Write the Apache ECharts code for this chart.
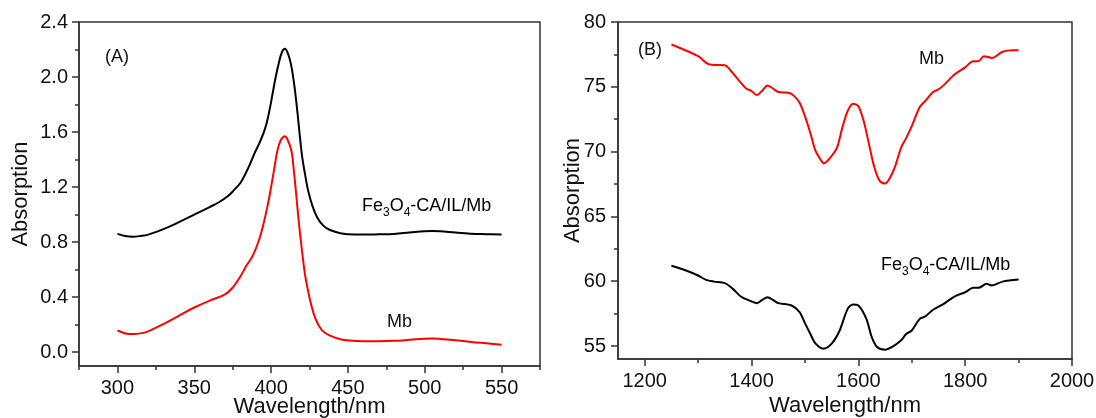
<!DOCTYPE html>
<html>
<head>
<meta charset="utf-8">
<script src="https://cdn.jsdelivr.net/npm/echarts@6/dist/echarts.min.js"></script>
<style>
  html, body { margin: 0; padding: 0; background: #fff; }
  #chart { width: 1096px; height: 418px; }
</style>
</head>
<body>
<div id="chart"></div>
<script>
// panel (A): UV-vis spectra
var xFilmA = [300, 305, 310, 315, 320, 330, 340, 350, 360, 366, 372, 376, 380, 383, 386, 389, 392, 395, 397, 399, 401, 403, 405, 407, 409, 411, 413, 415, 417, 420, 422, 424, 427, 430, 434, 438, 445, 450, 460, 470, 480, 490, 500, 505, 510, 520, 530, 540, 550];
var yFilmA = [0.86, 0.845, 0.84, 0.845, 0.855, 0.895, 0.945, 1.0, 1.055, 1.09, 1.135, 1.18, 1.23, 1.29, 1.36, 1.44, 1.51, 1.59, 1.66, 1.76, 1.88, 2.0, 2.1, 2.18, 2.205, 2.17, 2.09, 1.95, 1.76, 1.44, 1.3, 1.18, 1.06, 0.98, 0.92, 0.89, 0.865, 0.858, 0.855, 0.857, 0.86, 0.87, 0.88, 0.882, 0.88, 0.87, 0.862, 0.858, 0.855];
var xMbA = [300, 303, 306, 310, 315, 320, 330, 340, 350, 360, 370, 375, 380, 384, 388, 392, 395, 398, 400, 402, 404, 406, 408, 409, 410, 412, 413.5, 415, 416.5, 418, 420, 422, 424, 426, 429, 433, 438, 445, 451, 460, 470, 480, 490, 500, 505, 510, 520, 530, 540, 550];
var yMbA = [0.158, 0.145, 0.135, 0.133, 0.137, 0.152, 0.205, 0.265, 0.325, 0.375, 0.42, 0.47, 0.55, 0.63, 0.7, 0.81, 0.93, 1.08, 1.2, 1.33, 1.46, 1.535, 1.565, 1.57, 1.56, 1.51, 1.45, 1.3, 1.13, 0.95, 0.75, 0.57, 0.45, 0.35, 0.24, 0.16, 0.122, 0.095, 0.085, 0.08, 0.08, 0.083, 0.09, 0.098, 0.1, 0.097, 0.087, 0.075, 0.065, 0.055];

// panel (B): IR spectra
var xMbB = [1250, 1300, 1315, 1325, 1350, 1360, 1375, 1390, 1400, 1410, 1420, 1430, 1440, 1450, 1470, 1480, 1490, 1500, 1510, 1520, 1530, 1535, 1550, 1560, 1570, 1580, 1590, 1600, 1610, 1620, 1630, 1640, 1650, 1660, 1670, 1680, 1690, 1700, 1715, 1725, 1740, 1750, 1760, 1780, 1800, 1815, 1825, 1835, 1850, 1870, 1890, 1900];
var yMbB = [78.26, 77.36, 76.85, 76.7, 76.67, 76.3, 75.56, 74.87, 74.67, 74.36, 74.7, 75.1, 74.87, 74.6, 74.54, 74.28, 73.77, 72.74, 71.46, 70.05, 69.33, 69.1, 69.67, 70.3, 71.85, 73.13, 73.7, 73.5, 72.36, 70.56, 68.77, 67.74, 67.54, 68.05, 69.0, 70.3, 71.08, 71.97, 73.44, 73.9, 74.6, 74.8, 75.13, 75.95, 76.5, 76.97, 76.97, 77.36, 77.23, 77.7, 77.82, 77.82];
var xFilmB = [1250, 1275, 1300, 1315, 1330, 1350, 1365, 1380, 1400, 1410, 1420, 1430, 1440, 1450, 1475, 1490, 1500, 1510, 1520, 1535, 1550, 1565, 1580, 1590, 1600, 1615, 1625, 1635, 1650, 1665, 1680, 1690, 1700, 1715, 1725, 1740, 1760, 1780, 1800, 1815, 1825, 1840, 1850, 1870, 1900];
var yFilmB = [61.2, 60.87, 60.44, 60.1, 59.97, 59.85, 59.41, 58.82, 58.44, 58.31, 58.56, 58.77, 58.56, 58.31, 58.13, 57.62, 56.77, 55.95, 55.18, 54.8, 55.18, 56.2, 57.87, 58.2, 58.13, 57.1, 55.7, 54.92, 54.72, 54.97, 55.44, 55.95, 56.2, 57.1, 57.28, 57.8, 58.26, 58.82, 59.15, 59.49, 59.49, 59.8, 59.67, 59.97, 60.13];

// tick values
var xTicksA = [300, 350, 400, 450, 500, 550];
var xMinorA = [275, 325, 375, 425, 475, 525, 575];
var yTicksA = [0, 0.4, 0.8, 1.2, 1.6, 2.0, 2.4];
var yMinorA = [0.2, 0.6, 1.0, 1.4, 1.8, 2.2];
var xTicksB = [1200, 1400, 1600, 1800, 2000];
var xMinorB = [1300, 1500, 1700, 1900];
var yTicksB = [55, 60, 65, 70, 75, 80];
var yMinorB = [57.5, 62.5, 67.5, 72.5, 77.5];

var FONT = 'Liberation Sans, Arial, sans-serif';
var LINE = '#333';

function pairs(xs, ys) {
  return xs.map(function (x, i) { return [x, ys[i]]; });
}

function majorAxis(grid, min, max, ticks, fmt, pos, name, gap, margin) {
  return {
    gridIndex: grid,
    type: 'value',
    position: pos,
    min: min,
    max: max,
    splitLine: {show: false},
    axisLine: {show: true, onZero: false, lineStyle: {color: LINE, width: 1.5}},
    axisTick: {show: true, inside: false, length: 7, customValues: ticks, lineStyle: {color: LINE, width: 1.5}},
    axisLabel: {customValues: ticks, formatter: fmt, color: '#111', fontSize: 20, fontFamily: FONT, margin: margin},
    name: name,
    nameGap: gap,
    nameMoveOverlap: false,
    nameLocation: 'middle',
    nameTextStyle: {color: '#111', fontSize: 22, fontFamily: FONT}
  };
}

function minorAxis(grid, min, max, ticks, pos) {
  return {
    gridIndex: grid,
    type: 'value',
    position: pos,
    min: min,
    max: max,
    splitLine: {show: false},
    axisLine: {show: false, onZero: false},
    axisTick: {show: true, inside: false, length: 4, customValues: ticks, lineStyle: {color: LINE, width: 1.5}},
    axisLabel: {show: false}
  };
}

var fmt1 = function (v) { return v.toFixed(1); };
var fmt0 = function (v) { return String(Math.round(v)); };

var chart = echarts.init(document.getElementById('chart'));

var subText = '{n|Fe}{s|3}{n|O}{s|4}{n|-CA/IL/Mb}';
var subRich = {
  n: {fontSize: 18, fontFamily: FONT, color: '#111', lineHeight: 18},
  s: {fontSize: 12, fontFamily: FONT, color: '#111', lineHeight: 26, verticalAlign: 'bottom'}
};

var option = {
  animation: false,
  backgroundColor: '#fff',
  grid: [
    {left: 79, top: 22, width: 461, height: 344, show: true, borderColor: LINE, borderWidth: 1.5, outerBoundsMode: 'none', containLabel: false},
    {left: 618, top: 22, width: 454, height: 337, show: true, borderColor: LINE, borderWidth: 1.5, outerBoundsMode: 'none', containLabel: false}
  ],
  xAxis: [
    majorAxis(0, 275, 575, xTicksA, fmt0, 'bottom', 'Wavelength/nm', 30, 12),
    minorAxis(0, 275, 575, xMinorA, 'bottom'),
    majorAxis(1, 1150, 2000, xTicksB, fmt0, 'bottom', 'Wavelength/nm', 36, 12),
    minorAxis(1, 1150, 2000, xMinorB, 'bottom')
  ],
  yAxis: [
    majorAxis(0, -0.1, 2.4, yTicksA, fmt1, 'left', 'Absorption', 47, 11),
    minorAxis(0, -0.1, 2.4, yMinorA, 'left'),
    majorAxis(1, 54, 80, yTicksB, fmt0, 'left', 'Absorption', 34, 12),
    minorAxis(1, 54, 80, yMinorB, 'left')
  ],
  series: [
    {name: 'Fe3O4-CA/IL/Mb (A)', type: 'line', xAxisIndex: 0, yAxisIndex: 0, data: pairs(xFilmA, yFilmA),
      showSymbol: false, smooth: 0.4, lineStyle: {color: '#000', width: 2}},
    {name: 'Mb (A)', type: 'line', xAxisIndex: 0, yAxisIndex: 0, data: pairs(xMbA, yMbA),
      showSymbol: false, smooth: 0.4, lineStyle: {color: '#ff0000', width: 2}},
    {name: 'Mb (B)', type: 'line', xAxisIndex: 2, yAxisIndex: 2, data: pairs(xMbB, yMbB),
      showSymbol: false, smooth: 0.3, lineStyle: {color: '#ff0000', width: 2}},
    {name: 'Fe3O4-CA/IL/Mb (B)', type: 'line', xAxisIndex: 2, yAxisIndex: 2, data: pairs(xFilmB, yFilmB),
      showSymbol: false, smooth: 0.3, lineStyle: {color: '#000', width: 2}}
  ],
  graphic: [
    {type: 'text', left: 105, top: 48, style: {text: '(A)', fontSize: 18, fontFamily: FONT, fill: '#111'}},
    {type: 'text', left: 362, top: 197, style: {text: subText, rich: subRich}},
    {type: 'text', left: 387, top: 313, style: {text: 'Mb', fontSize: 18, fontFamily: FONT, fill: '#111'}},
    {type: 'text', left: 638, top: 41, style: {text: '(B)', fontSize: 18, fontFamily: FONT, fill: '#111'}},
    {type: 'text', left: 919, top: 50, style: {text: 'Mb', fontSize: 18, fontFamily: FONT, fill: '#111'}},
    {type: 'text', left: 881, top: 256, style: {text: subText, rich: subRich}}
  ]
};

chart.setOption(option);
</script>
</body>
</html>
